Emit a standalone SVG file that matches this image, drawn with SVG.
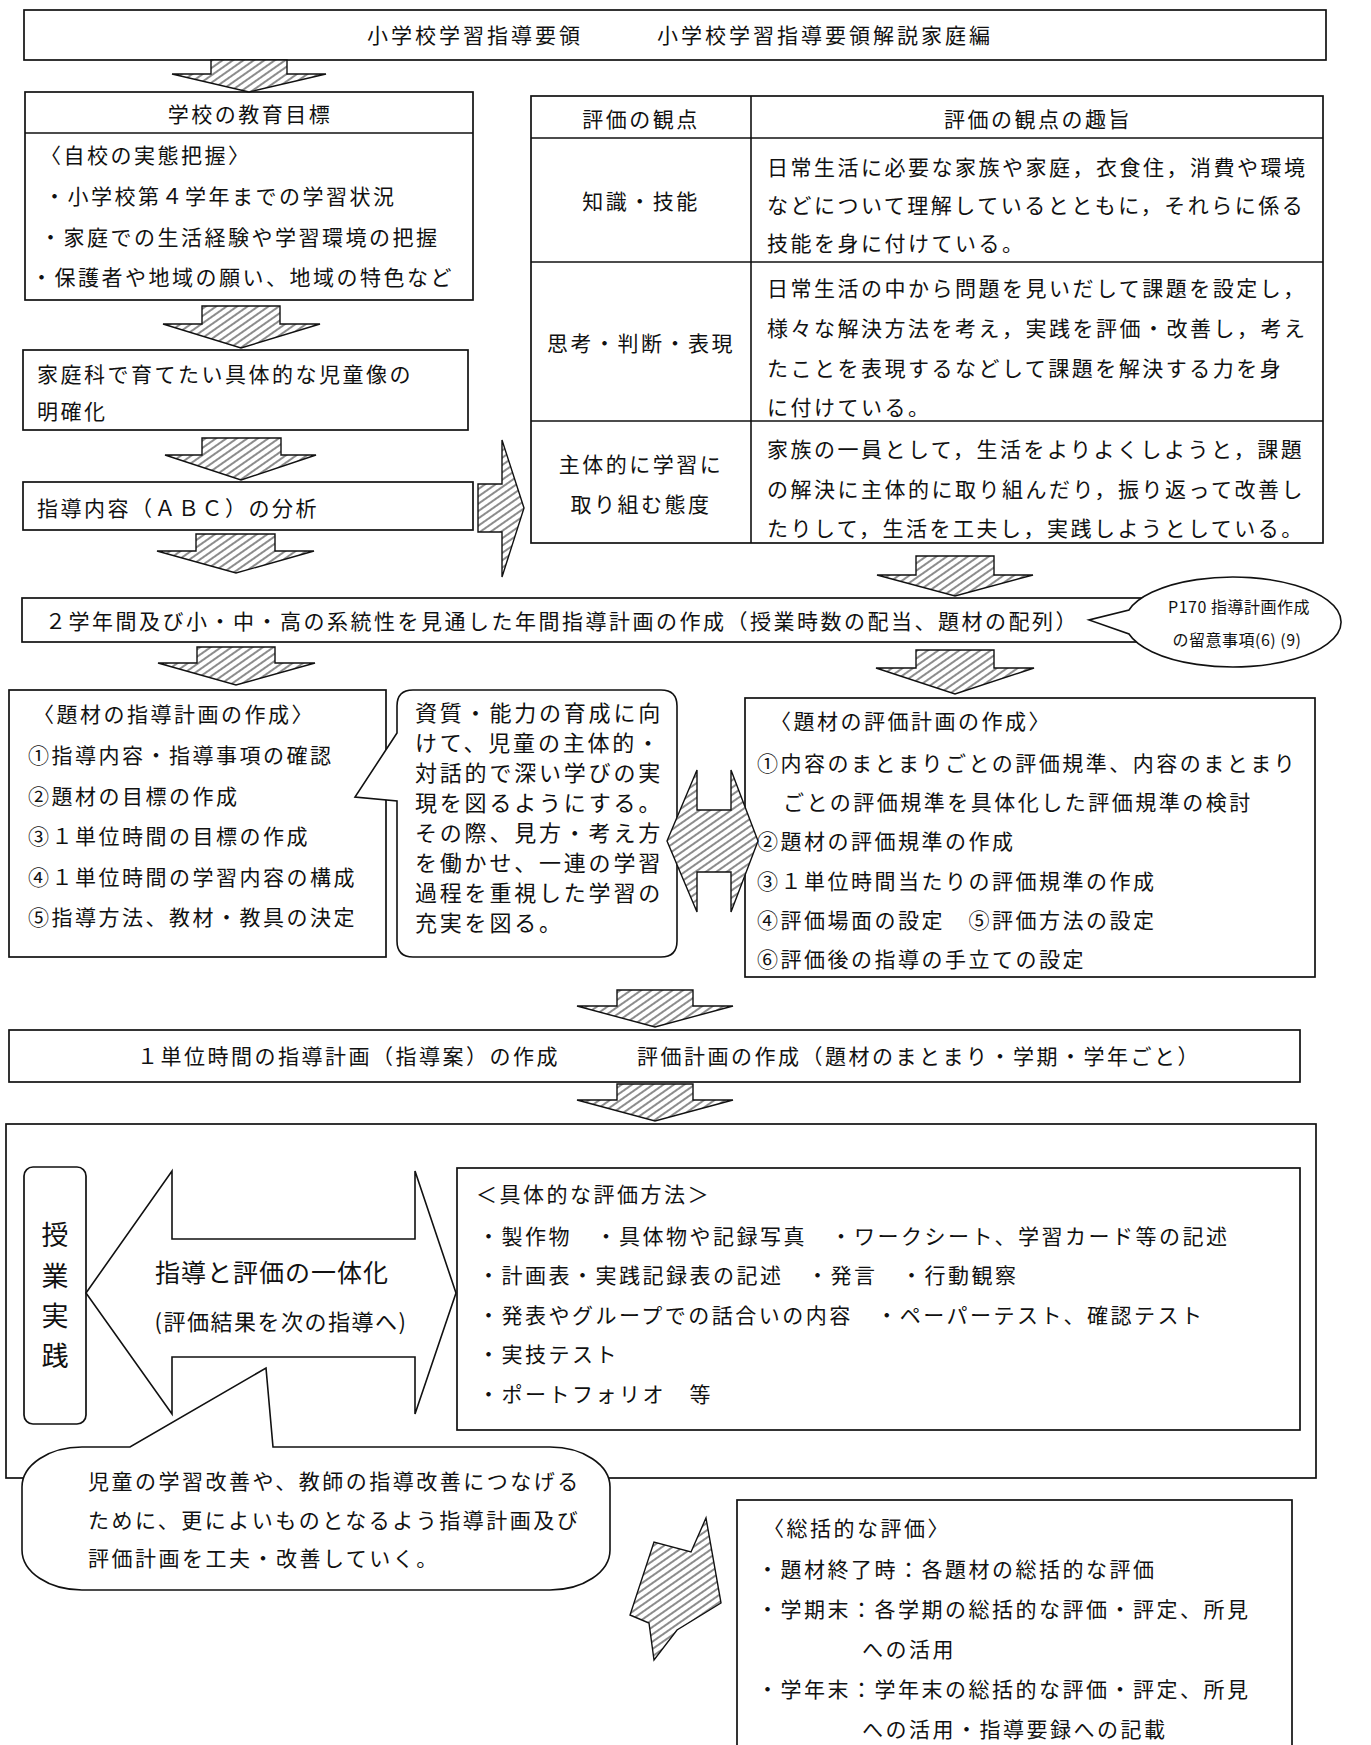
<svg xmlns="http://www.w3.org/2000/svg" width="1371" height="1745" viewBox="0 0 1371 1745">
<defs>
<pattern id="hatch" patternUnits="userSpaceOnUse" width="6" height="6" patternTransform="rotate(-35)">
<rect width="6" height="6" fill="#fff"/>
<line x1="0" y1="3" x2="6" y2="3" stroke="#000" stroke-width="0.9"/>
</pattern>
<style>
.box{fill:#fff;stroke:#111;stroke-width:1.7}
.ln{fill:none;stroke:#111;stroke-width:1.6}
.t{font-family:"Noto Sans CJK JP","Noto Sans CJK SC",sans-serif;font-size:21px;letter-spacing:2.5px;fill:#111;dominant-baseline:central}
.c{text-anchor:middle}
.b{font-size:22px;letter-spacing:2.8px}
.s{font-size:16px;letter-spacing:0.5px}
.v{font-size:27px;letter-spacing:0}
.h{fill:url(#hatch);stroke:#111;stroke-width:1.4;stroke-linejoin:miter}
.w{fill:#fff;stroke:#111;stroke-width:1.6;stroke-linejoin:miter}
</style>
</defs>
<rect width="1371" height="1745" fill="#fff"/>

<g id="top">
<rect class="box" x="24" y="10" width="1302" height="50"/>
<text class="t" x="367" y="34" style="letter-spacing:3px">小学校学習指導要領</text>
<text class="t" x="657" y="34" style="letter-spacing:3px">小学校学習指導要領解説家庭編</text>
</g>

<g id="school-goal">
<rect class="box" x="25" y="92" width="448" height="208"/>
<line class="ln" x1="25" y1="133" x2="473" y2="133"/>
<text class="t c" x="250" y="113">学校の教育目標</text>
<text class="t" x="40" y="154">〈自校の実態把握〉</text>
<text class="t" x="44" y="195">・小学校第４学年までの学習状況</text>
<text class="t" x="40" y="236">・家庭での生活経験や学習環境の把握</text>
<text class="t" x="31" y="276">・保護者や地域の願い、地域の特色など</text>
</g>

<g id="child-image">
<rect class="box" x="23" y="350" width="445" height="80"/>
<text class="t" x="37" y="373">家庭科で育てたい具体的な児童像の</text>
<text class="t" x="37" y="410">明確化</text>
</g>

<g id="content-analysis">
<rect class="box" x="23" y="482" width="450" height="48"/>
<text class="t" x="37" y="507">指導内容（ＡＢＣ）の分析</text>
</g>

<g id="eval-table">
<rect class="box" x="531" y="96" width="792" height="447"/>
<line class="ln" x1="531" y1="138" x2="1323" y2="138"/>
<line class="ln" x1="531" y1="262" x2="1323" y2="262"/>
<line class="ln" x1="531" y1="421" x2="1323" y2="421"/>
<line class="ln" x1="751" y1="96" x2="751" y2="543"/>
<text class="t c" x="641" y="118">評価の観点</text>
<text class="t c" x="1038" y="118">評価の観点の趣旨</text>
<text class="t c" x="641" y="200">知識・技能</text>
<text class="t" x="767" y="166">日常生活に必要な家族や家庭，衣食住，消費や環境</text>
<text class="t" x="767" y="204">などについて理解しているとともに，それらに係る</text>
<text class="t" x="767" y="242">技能を身に付けている。</text>
<text class="t c" x="641" y="342">思考・判断・表現</text>
<text class="t" x="767" y="287">日常生活の中から問題を見いだして課題を設定し，</text>
<text class="t" x="767" y="327">様々な解決方法を考え，実践を評価・改善し，考え</text>
<text class="t" x="767" y="367">たことを表現するなどして課題を解決する力を身</text>
<text class="t" x="767" y="406">に付けている。</text>
<text class="t c" x="641" y="463">主体的に学習に</text>
<text class="t c" x="641" y="503">取り組む態度</text>
<text class="t" x="767" y="448">家族の一員として，生活をよりよくしようと，課題</text>
<text class="t" x="767" y="488">の解決に主体的に取り組んだり，振り返って改善し</text>
<text class="t" x="767" y="527">たりして，生活を工夫し，実践しようとしている。</text>
</g>

<g id="annual-plan">
<rect class="box" x="22" y="598" width="1180" height="44"/>
<text class="t" x="45" y="620">２学年間及び小・中・高の系統性を見通した年間指導計画の作成（授業時数の配当、題材の配列）</text>
</g>

<g id="note-p170">
<path class="w" d="M1129 610 A108 45 0 1 1 1129 634 L1089 620 Z"/>
<text class="t s c" x="1239" y="606">P170 指導計画作成</text>
<text class="t s c" x="1237" y="639">の留意事項(6) (9)</text>
</g>

<g id="unit-plan">
<rect class="box" x="9" y="690" width="377" height="267"/>
<text class="t" x="33" y="713">〈題材の指導計画の作成〉</text>
<text class="t" x="28" y="754">①指導内容・指導事項の確認</text>
<text class="t" x="28" y="795">②題材の目標の作成</text>
<text class="t" x="28" y="835">③１単位時間の目標の作成</text>
<text class="t" x="28" y="876">④１単位時間の学習内容の構成</text>
<text class="t" x="28" y="916">⑤指導方法、教材・教具の決定</text>
</g>

<g id="bubble-quality">
<path class="w" d="M413 690 H661 Q677 690 677 706 V941 Q677 957 661 957 H413 Q397 957 397 941 V801 L355 797 L397 733 V706 Q397 690 413 690 Z"/>
<text class="t b" x="415" y="711">資質・能力の育成に向</text>
<text class="t b" x="415" y="741">けて、児童の主体的・</text>
<text class="t b" x="415" y="771">対話的で深い学びの実</text>
<text class="t b" x="415" y="801">現を図るようにする。</text>
<text class="t b" x="415" y="831">その際、見方・考え方</text>
<text class="t b" x="415" y="861">を働かせ、一連の学習</text>
<text class="t b" x="415" y="891">過程を重視した学習の</text>
<text class="t b" x="415" y="921">充実を図る。</text>
</g>

<g id="unit-eval-plan">
<rect class="box" x="745" y="698" width="570" height="279"/>
<text class="t" x="770" y="720">〈題材の評価計画の作成〉</text>
<text class="t" x="757" y="762">①内容のまとまりごとの評価規準、内容のまとまり</text>
<text class="t" x="783" y="801">ごとの評価規準を具体化した評価規準の検討</text>
<text class="t" x="757" y="840">②題材の評価規準の作成</text>
<text class="t" x="757" y="880">③１単位時間当たりの評価規準の作成</text>
<text class="t" x="757" y="919">④評価場面の設定　⑤評価方法の設定</text>
<text class="t" x="757" y="958">⑥評価後の指導の手立ての設定</text>
</g>

<g id="lesson-plan">
<rect class="box" x="9" y="1030" width="1291" height="52"/>
<text class="t" x="137" y="1055">１単位時間の指導計画（指導案）の作成</text>
<text class="t" x="637" y="1055">評価計画の作成（題材のまとまり・学期・学年ごと）</text>
</g>

<g id="practice-frame">
<rect class="box" x="6" y="1124" width="1310" height="354"/>
</g>

<g id="practice">
<rect class="box" x="24" y="1167" width="62" height="257" rx="9"/>
<text class="t v c" x="55" y="1233">授</text>
<text class="t v c" x="55" y="1274">業</text>
<text class="t v c" x="55" y="1314">実</text>
<text class="t v c" x="55" y="1354">践</text>
</g>

<g id="integration">
<polygon class="w" points="86,1293 172,1171 172,1239 415,1239 415,1171 456,1293 415,1414 415,1357 172,1357 172,1414"/>
<text class="t c" x="272" y="1271" style="font-size:25px;letter-spacing:1px">指導と評価の一体化</text>
<text class="t c" x="281" y="1320" style="font-size:22px;letter-spacing:1.5px">(評価結果を次の指導へ)</text>
</g>

<g id="eval-methods">
<rect class="box" x="457" y="1168" width="843" height="262"/>
<text class="t" x="476" y="1193">＜具体的な評価方法＞</text>
<text class="t" x="478" y="1235">・製作物　・具体物や記録写真　・ワークシート、学習カード等の記述</text>
<text class="t" x="478" y="1274">・計画表・実践記録表の記述　・発言　・行動観察</text>
<text class="t" x="478" y="1314">・発表やグループでの話合いの内容　・ペーパーテスト、確認テスト</text>
<text class="t" x="478" y="1353">・実技テスト</text>
<text class="t" x="478" y="1393">・ポートフォリオ　等</text>
</g>

<g id="improve-bubble">
<path class="w" d="M130 1447 L82 1447 A60 40 0 0 0 22 1487 V1550 A60 40 0 0 0 82 1590 H550 A60 40 0 0 0 610 1550 V1487 A60 40 0 0 0 550 1447 H273 L266 1368 Z"/>
<text class="t" x="88" y="1480">児童の学習改善や、教師の指導改善につなげる</text>
<text class="t" x="88" y="1519">ために、更によいものとなるよう指導計画及び</text>
<text class="t" x="88" y="1557">評価計画を工夫・改善していく。</text>
</g>

<g id="summative">
<rect class="box" x="737" y="1500" width="555" height="270"/>
<text class="t" x="763" y="1527">〈総括的な評価〉</text>
<text class="t" x="757" y="1568">・題材終了時：各題材の総括的な評価</text>
<text class="t" x="757" y="1608">・学期末：各学期の総括的な評価・評定、所見</text>
<text class="t" x="862" y="1648">への活用</text>
<text class="t" x="757" y="1688">・学年末：学年末の総括的な評価・評定、所見</text>
<text class="t" x="862" y="1728">への活用・指導要録への記載</text>
</g>

<g id="connectors">
<polygon class="h" points="211,60 287,60 287,74 326,74 249,92 172,74 211,74"/>
<polygon class="h" points="202,306 280,306 280,324 320,324 241,348 163,324 202,324"/>
<polygon class="h" points="202,438 281,438 281,455 316,455 241,480 165,455 202,455"/>
<polygon class="h" points="196,534 275,534 275,551 314,551 236,573 157,551 196,551"/>
<polygon class="h" points="478,484 502,484 502,440 524,508 502,577 502,532 478,532"/>
<polygon class="h" points="916,556 994,556 994,575 1033,575 955,596 877,575 916,575"/>
<polygon class="h" points="197,647 275,647 275,663 315,663 236,685 158,663 197,663"/>
<polygon class="h" points="916,650 994,650 994,668 1034,668 955,694 876,668 916,668"/>
<polygon class="h" points="667,841 697,770 697,810 731,810 731,770 758,841 731,912 731,872 697,872 697,912"/>
<polygon class="h" points="617,990 693,990 693,1006 733,1006 655,1027 577,1006 617,1006"/>
<polygon class="h" points="617,1084 693,1084 693,1100 733,1100 655,1121 577,1100 617,1100"/>
<polygon class="h" points="706,1518 721,1603 677,1630 654,1660 649,1623 630,1615 654,1542 691,1552"/>
</g>
</svg>
